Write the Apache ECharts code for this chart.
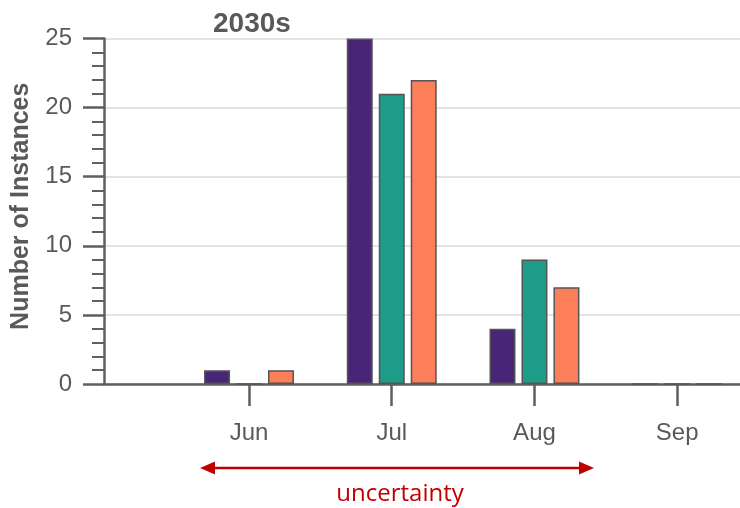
<!DOCTYPE html>
<html>
<head>
<meta charset="utf-8">
<script src="https://cdn.jsdelivr.net/npm/echarts@6/dist/echarts.min.js"></script>
<style>html,body{margin:0;padding:0;background:#fff}#c{width:740px;height:508px}</style>
</head>
<body>
<div id="c"></div>
<script>
var months = ['Jun', 'Jul', 'Aug', 'Sep'];
var monthNumbers = [6, 7, 8, 9];
var seriesA = [1, 25, 4, 0];
var seriesB = [0, 21, 9, 0];
var seriesC = [1, 22, 7, 0];
var yTicks = [0, 5, 10, 15, 20, 25];
var titleText = '2030s';
var yName = 'Number of Instances';
var noteText = 'uncertainty';

function pairs(vals) {
  return vals.map(function (v, i) { return [monthNumbers[i], v]; });
}
var colors = ['#482576', '#1f9c89', '#fc7f5a'];
var axisColor = '#5f5f5f';
var textColor = '#595959';

var chart = echarts.init(document.getElementById('c'));
var barBase = {
  type: 'bar',
  barWidth: 26,
  barGap: '23%',
  itemStyle: { borderColor: '#555', borderWidth: 1.5 }
};
chart.setOption({
  animation: false,
  title: {
    text: titleText, left: 208, top: 5,
    textStyle: { fontFamily: 'Liberation Sans, Arial', fontSize: 28, fontWeight: 'bold', color: textColor }
  },
  grid: { left: 104, right: 0, top: 38.5, bottom: 124, containLabel: false, outerBoundsMode: 'none' },
  xAxis: {
    type: 'value', min: 4.984, max: 9.44,
    axisLine: { show: true, onZero: false, lineStyle: { color: axisColor, width: 2.5 } },
    axisTick: { show: true, customValues: monthNumbers, length: 22, lineStyle: { color: axisColor, width: 2.5 } },
    axisLabel: {
      show: true, customValues: monthNumbers, margin: 37,
      formatter: function (v) { var i = monthNumbers.indexOf(Math.round(v)); return i >= 0 ? months[i] : ''; },
      fontFamily: 'Liberation Sans, Arial', fontSize: 24, color: textColor
    },
    splitLine: { show: false }
  },
  yAxis: {
    type: 'value', min: 0, max: 25, interval: 5,
    name: yName, nameLocation: 'middle', nameGap: 70, nameRotate: 90,
    nameTextStyle: { fontFamily: 'Liberation Sans, Arial', fontSize: 25, fontWeight: 'bold', color: textColor, padding: [0, 0, 0, 10] },
    axisLine: { show: true, onZero: false, lineStyle: { color: axisColor, width: 2.5 } },
    axisTick: { show: true, length: 21, lineStyle: { color: axisColor, width: 2.5 } },
    minorTick: { show: true, splitNumber: 5, length: 12, lineStyle: { color: axisColor, width: 2 } },
    axisLabel: {
      margin: 32, fontFamily: 'Liberation Sans, Arial', fontSize: 24, color: textColor,
      formatter: function (v) { return yTicks.indexOf(v) >= 0 ? String(v) : ''; }
    },
    splitLine: { show: true, lineStyle: { color: '#e3e3e3', width: 2 } }
  },
  series: [
    Object.assign({}, barBase, { name: 'A', data: pairs(seriesA), itemStyle: Object.assign({}, barBase.itemStyle, { color: colors[0] }) }),
    Object.assign({}, barBase, { name: 'B', data: pairs(seriesB), itemStyle: Object.assign({}, barBase.itemStyle, { color: colors[1] }) }),
    Object.assign({}, barBase, { name: 'C', data: pairs(seriesC), itemStyle: Object.assign({}, barBase.itemStyle, { color: colors[2] }) })
  ],
  graphic: [
    { type: 'line', shape: { x1: 212, y1: 468, x2: 582, y2: 468 }, style: { stroke: '#c00000', lineWidth: 2.5 } },
    { type: 'polygon', shape: { points: [[200, 468], [215, 461.5], [215, 474.5]] }, style: { fill: '#c00000' } },
    { type: 'polygon', shape: { points: [[594, 468], [579, 461.5], [579, 474.5]] }, style: { fill: '#c00000' } },
    { type: 'text', style: { x: 400, y: 494, text: noteText, fill: '#c00000', align: 'center', verticalAlign: 'middle', font: '24px "Open Sans", "Noto Sans", sans-serif' } }
  ]
});
</script>
</body>
</html>
